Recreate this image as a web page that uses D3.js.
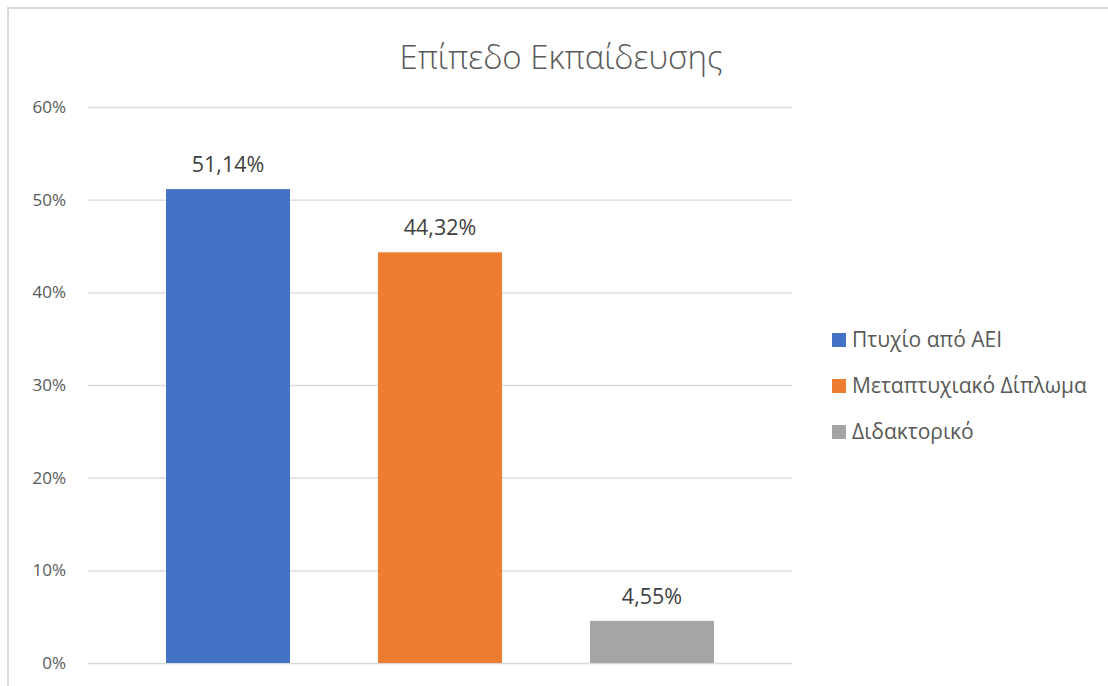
<!DOCTYPE html>
<html><head><meta charset="utf-8">
<script src="https://cdn.jsdelivr.net/npm/d3@7"></script>
<style>body{margin:0;background:#fff}</style>
</head><body>
<script>
const series = ["Πτυχίο από ΑΕΙ", "Μεταπτυχιακό Δίπλωμα", "Διδακτορικό"];
const values = [51.14, 44.32, 4.55];
const labels = ["51,14%", "44,32%", "4,55%"];
const colors = ["#4472C4", "#ED7D31", "#A5A5A5"];
const yTicks = [0, 10, 20, 30, 40, 50, 60];
const title = "Επίπεδο Εκπαίδευσης";

const W = 1108, H = 686;
const svg = d3.select("body").append("svg").attr("width", W).attr("height", H);
svg.append("rect").attr("width", W).attr("height", H).attr("fill", "#fff");
// outer border
svg.append("path").attr("d", `M8,${H+5}V8H${W+5}`).attr("fill", "none").attr("stroke", "#d9d9d9").attr("stroke-width", 2);

const x = d3.scaleBand().domain(series).range([88, 792]).paddingInner(0.415).paddingOuter(0.368);
const y = d3.scaleLinear().domain([0, 60]).range([663, 107]);

const yAxis = svg.append("g").attr("transform", "translate(88,0)")
  .call(d3.axisLeft(y).tickValues(yTicks).tickFormat(d => d + "%").tickSize(-704).tickPadding(22));
yAxis.select(".domain").remove();
yAxis.selectAll(".tick line").attr("stroke", "#d9d9d9").attr("stroke-width", 1.3);
yAxis.selectAll(".tick text").attr("fill", "#595959").style("font-family", "'Open Sans', sans-serif").style("font-size", "17px");

svg.append("g").selectAll("rect").data(series).join("rect")
  .attr("x", d => x(d)).attr("width", x.bandwidth())
  .attr("y", (d, i) => y(values[i])).attr("height", (d, i) => y(0) - y(values[i]))
  .attr("fill", (d, i) => colors[i]);

svg.append("g").selectAll("text").data(series).join("text")
  .attr("x", d => x(d) + x.bandwidth() / 2)
  .attr("y", (d, i) => y(values[i]) - 17)
  .attr("text-anchor", "middle")
  .attr("fill", "#404040")
  .style("font-family", "'Open Sans', sans-serif").style("font-size", "21.5px")
  .text((d, i) => labels[i]);

svg.append("text").attr("x", 561).attr("y", 69).attr("text-anchor", "middle")
  .attr("fill", "#595959").style("font-family", "'Open Sans', sans-serif").style("font-size", "33px").style("font-weight", 300)
  .text(title);

const leg = svg.append("g").selectAll("g").data(series).join("g")
  .attr("transform", (d, i) => `translate(832,${340 + i * 46})`);
leg.append("rect").attr("x", 0).attr("y", -7).attr("width", 14).attr("height", 14).attr("fill", (d, i) => colors[i]);
leg.append("text").attr("x", 20).attr("y", 7).attr("fill", "#595959")
  .style("font-family", "'Open Sans', sans-serif").style("font-size", "21px").text(d => d);
</script>
</body></html>
